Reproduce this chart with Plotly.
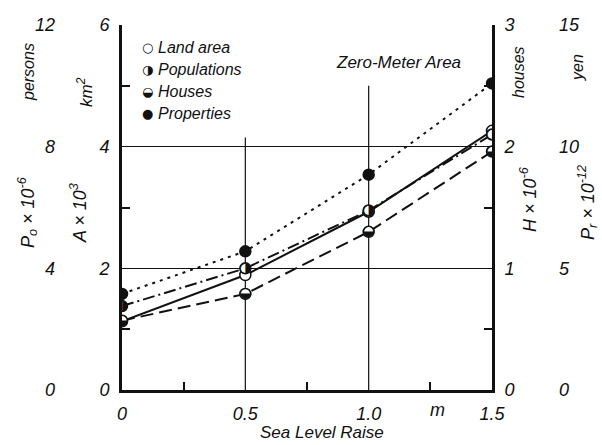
import plotly.graph_objects as go

# ---------------- data ----------------
sea_level = [0.0, 0.5, 1.0, 1.5]              # m
land_area = [1.13, 1.89, 2.93, 4.26]          # A x 10^3 km^2
populations = [2.76, 4.0, 5.9, 8.4]           # Po x 10^-6 persons
houses = [0.57, 0.79, 1.30, 1.96]             # H x 10^-6 houses
properties = [3.95, 5.7, 8.85, 12.6]          # Pr x 10^-12 yen

x_ticks = [0, 0.5, 1.0, 1.5]
x_ticktext = ["0", "0.5", "1.0", "1.5"]
a_ticks = [0, 2, 4, 6]
po_ticks = [0, 4, 8, 12]
h_ticks = [0, 1, 2, 3]
pr_ticks = [0, 5, 10, 15]

vgrid_x = [0.5, 1.0]
vgrid_top = [4.15, 5.0]

W, H = 602, 445
FONT = "Liberation Sans"
BLACK = "#111111"

def px(x):
    return x / W

def py(y):
    return 1 - y / H

fig = go.Figure()

# lines
fig.add_trace(go.Scatter(x=sea_level, y=properties, yaxis="y4", mode="lines",
                         line=dict(color=BLACK, width=2, dash="3px,5px"), showlegend=False))
fig.add_trace(go.Scatter(x=sea_level, y=houses, yaxis="y3", mode="lines",
                         line=dict(color=BLACK, width=2, dash="13px,6px"), showlegend=False))
fig.add_trace(go.Scatter(x=sea_level, y=populations, yaxis="y2", mode="lines",
                         line=dict(color=BLACK, width=2, dash="12px,4px,2px,4px"), showlegend=False))
fig.add_trace(go.Scatter(x=sea_level, y=land_area, yaxis="y", mode="lines",
                         line=dict(color=BLACK, width=2), showlegend=False))

# markers
mk_white = dict(symbol="circle", size=11, color="white", line=dict(color=BLACK, width=1.5))
fig.add_trace(go.Scatter(x=sea_level, y=properties, yaxis="y4", mode="markers",
                         marker=dict(symbol="circle", size=11, color=BLACK,
                                     line=dict(color=BLACK, width=1.5)), showlegend=False))
fig.add_trace(go.Scatter(x=sea_level, y=houses, yaxis="y3", mode="markers+text",
                         marker=mk_white, text=["◒"] * len(sea_level),
                         textposition="middle center",
                         textfont=dict(family="DejaVu Sans", size=14, color=BLACK),
                         showlegend=False))
fig.add_trace(go.Scatter(x=sea_level, y=populations, yaxis="y2", mode="markers+text",
                         marker=mk_white, text=["◑"] * len(sea_level),
                         textposition="middle center",
                         textfont=dict(family="DejaVu Sans", size=14, color=BLACK),
                         showlegend=False))
fig.add_trace(go.Scatter(x=sea_level, y=land_area, yaxis="y", mode="markers",
                         marker=mk_white, showlegend=False))

tickfont = dict(family=FONT, size=18, color=BLACK, style="italic")
xdom = [px(122), px(492)]
ydom = [py(390), py(25)]

fig.update_layout(
    width=W, height=H, autosize=False,
    margin=dict(l=0, r=0, t=0, b=0, pad=0, autoexpand=False),
    paper_bgcolor="white", plot_bgcolor="white",
    showlegend=False,
    xaxis=dict(domain=xdom, range=[0, 1.5], tickvals=x_ticks, ticktext=x_ticktext,
               showline=True, linewidth=3, linecolor=BLACK, showgrid=False, zeroline=False,
               ticks="", tickfont=tickfont, ticklabelstandoff=5, automargin=False,
               minor=dict(tickvals=[0.25, 0.75, 1.25], ticks="inside", ticklen=8,
                          tickwidth=1.5, tickcolor=BLACK, showgrid=False)),
    xaxis2=dict(overlaying="x", side="top", anchor="y", range=[0, 1.5], domain=xdom,
                showline=True, linewidth=1.5, linecolor=BLACK, showgrid=False, zeroline=False,
                tickvals=vgrid_x, ticks="inside", ticklen=6, tickwidth=1.5, tickcolor=BLACK,
                showticklabels=False, automargin=False),
    yaxis=dict(domain=ydom, range=[0, 6], tickvals=a_ticks, showline=True, linewidth=3,
               linecolor=BLACK, showgrid=True, gridcolor=BLACK, gridwidth=1.2, zeroline=False,
               ticks="", tickfont=tickfont, ticklabelstandoff=6, automargin=False,
               minor=dict(tickvals=[1, 3, 5], ticks="inside", ticklen=8, tickwidth=1.5,
                          tickcolor=BLACK, showgrid=False)),
    yaxis2=dict(overlaying="y", anchor="free", position=px(55), side="left", range=[0, 12],
                tickvals=po_ticks, showline=False, showgrid=False, zeroline=False,
                ticks="", tickfont=tickfont, automargin=False),
    yaxis3=dict(overlaying="y", anchor="x", side="right", range=[0, 3], tickvals=h_ticks,
                showline=True, linewidth=3, linecolor=BLACK, showgrid=False, zeroline=False,
                ticks="", tickfont=tickfont, ticklabelstandoff=6, automargin=False,
                minor=dict(tickvals=[0.5, 1.5, 2.5], ticks="inside", ticklen=8, tickwidth=1.5,
                           tickcolor=BLACK, showgrid=False)),
    yaxis4=dict(overlaying="y", anchor="free", position=px(558), side="right", range=[0, 15],
                tickvals=pr_ticks, showline=False, showgrid=False, zeroline=False,
                ticks="", tickfont=tickfont, automargin=False),
)

# partial vertical grid lines
for xv, yt in zip(vgrid_x, vgrid_top):
    fig.add_shape(type="line", xref="x", yref="y", x0=xv, x1=xv, y0=0, y1=yt,
                  line=dict(color=BLACK, width=1.2), layer="below")

def ann(text, x, y, size=15, angle=0, anchor="center", family=FONT):
    fig.add_annotation(text=text, x=px(x), y=py(y), xref="paper", yref="paper",
                       showarrow=False, textangle=angle, xanchor=anchor, yanchor="middle",
                       font=dict(family=family, size=size, color=BLACK, style="italic"))

ann("persons", 28, 72, 16, -90)
ann("P<sub>o</sub> × 10<sup>-6</sup>", 27, 213, 18, -90)
ann("km<sup>2</sup>", 85, 92, 17, -90)
ann("A × 10<sup>3</sup>", 78, 213, 18, -90)
ann("houses", 518, 72, 16, -90)
ann("H × 10<sup>-6</sup>", 528, 200, 18, -90)
ann("yen", 578, 68, 16, -90)
ann("P<sub>r</sub> × 10<sup>-12</sup>", 587, 203, 18, -90)
ann("m", 437, 410, 18)
ann("Sea Level Raise", 322, 432, 17)
ann("Zero-Meter Area", 398, 63, 17)

legend_rows = [("○", "Land area", 48), ("◑", "Populations", 70),
               ("◒", "Houses", 91), ("●", "Properties", 114)]
for sym, label, yy in legend_rows:
    fig.add_annotation(text=sym, x=px(147), y=py(yy), xref="paper", yref="paper",
                       showarrow=False, xanchor="center", yanchor="middle",
                       font=dict(family="DejaVu Sans", size=13, color=BLACK))
    ann(label, 156, yy, 16, 0, "left")

fig.write_html("out.html")
